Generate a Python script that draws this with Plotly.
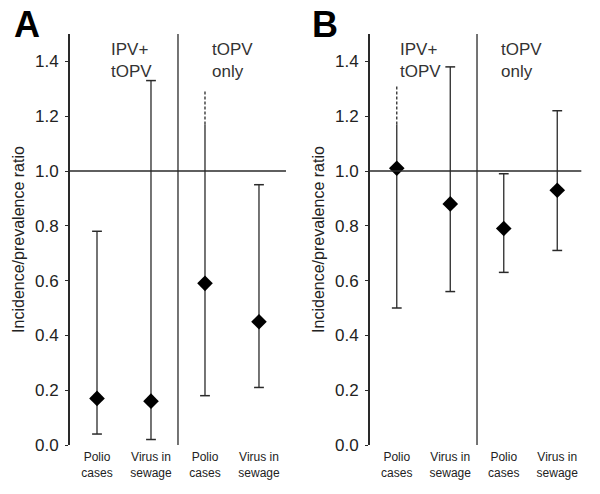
import plotly.graph_objects as go

categories = ["Polio<br>cases", "Virus in<br>sewage", "Polio<br>cases", "Virus in<br>sewage"]
cat_pos = [1, 2, 3, 4]

# Panel A
A_est = [0.17, 0.16, 0.59, 0.45]
A_lo = [0.04, 0.02, 0.18, 0.21]
A_hi = [0.78, 1.33, 1.17, 0.95]
A_hi_ext = [None, None, 1.29, None]   # dashed continuation (no cap)

# Panel B
B_est = [1.01, 0.88, 0.79, 0.93]
B_lo = [0.50, 0.56, 0.63, 0.71]
B_hi = [1.17, 1.38, 0.99, 1.22]
B_hi_ext = [1.31, None, None, None]

group_labels = ["IPV+<br>tOPV", "tOPV<br>only"]
y_ticks = [0.0, 0.2, 0.4, 0.6, 0.8, 1.0, 1.2, 1.4]

LINE = "#2a2a2a"
TXT = "#333333"
FONT = "Liberation Sans, Arial, sans-serif"

fig = go.Figure()


def add_panel(xa, ya, est, lo, hi, hi_ext):
    for x, e, l, h, hx in zip(cat_pos, est, lo, hi, hi_ext):
        fig.add_trace(go.Scatter(x=[x, x], y=[l, h], mode="lines",
                                 line=dict(color=LINE, width=1.3),
                                 xaxis=xa, yaxis=ya, showlegend=False, hoverinfo="skip"))
        caps = [l] if hx is not None else [l, h]
        if hx is not None:
            fig.add_trace(go.Scatter(x=[x, x], y=[h, hx], mode="lines",
                                     line=dict(color=LINE, width=1.3, dash="3px,2px"),
                                     xaxis=xa, yaxis=ya, showlegend=False, hoverinfo="skip"))
        fig.add_trace(go.Scatter(x=[x] * len(caps), y=caps, mode="markers",
                                 marker=dict(symbol="line-ew", size=7,
                                             line=dict(color=LINE, width=1.5)),
                                 xaxis=xa, yaxis=ya, showlegend=False, hoverinfo="skip"))
    fig.add_trace(go.Scatter(x=cat_pos, y=est, mode="markers",
                             marker=dict(symbol="diamond", size=12, color="black"),
                             xaxis=xa, yaxis=ya, showlegend=False))


add_panel("x", "y", A_est, A_lo, A_hi, A_hi_ext)
add_panel("x2", "y2", B_est, B_lo, B_hi, B_hi_ext)

xcommon = dict(range=[0.5, 4.5], tickvals=cat_pos, ticktext=categories,
               showgrid=False, zeroline=False, showline=False, ticks="",
               tickfont=dict(family=FONT, size=12, color="#222"),
               ticklabelstandoff=3, fixedrange=True, automargin=False)
ycommon = dict(range=[0, 1.5], tickvals=y_ticks, tickformat=".1f",
               showgrid=False, zeroline=False, showline=True, linecolor=LINE,
               linewidth=2, ticks="outside", ticklen=3, tickcolor=LINE,
               tickfont=dict(family=FONT, size=17, color="#222"),
               ticklabelstandoff=3, automargin=False,
               title=dict(text="Incidence/prevalence ratio", standoff=6,
                          font=dict(family=FONT, size=16, color="#222")))

fig.update_layout(
    width=600, height=494,
    margin=dict(l=70, r=16, t=34, b=49),
    plot_bgcolor="white", paper_bgcolor="white",
    xaxis=dict(domain=[0, 0.4202], anchor="y", **xcommon),
    xaxis2=dict(domain=[0.5837, 1.0], anchor="y2", **xcommon),
    yaxis=dict(domain=[0, 1], anchor="x", **ycommon),
    yaxis2=dict(domain=[0, 1], anchor="x2", **ycommon),
)

shapes = []
for xr, yr, xend in [("x", "y", 4.5), ("x2", "y2", 4.45)]:
    shapes.append(dict(type="line", xref=xr, yref=yr, x0=0.5, x1=xend, y0=1.0, y1=1.0,
                       line=dict(color=LINE, width=1.3)))
    shapes.append(dict(type="line", xref=xr, yref=yr, x0=2.5, x1=2.5, y0=0.0, y1=1.5,
                       line=dict(color=LINE, width=1.3)))
fig.update_layout(shapes=shapes)

ann = []
for xr, yr, xs in [("x", "y", [1.22, 3.09]), ("x2", "y2", [1.03, 2.91])]:
    for label, xx in zip(group_labels, xs):
        ann.append(dict(xref=xr, yref=yr, x=xx, y=1.485, text=label, showarrow=False,
                        xanchor="left", yanchor="top", align="left",
                        font=dict(family=FONT, size=17, color=TXT)))
ann.append(dict(xref="paper", yref="paper", x=-0.113, y=1.022, text="<b>A</b>",
                showarrow=False, xanchor="left", yanchor="middle",
                font=dict(family=FONT, size=36, color="black")))
ann.append(dict(xref="paper", yref="paper", x=0.467, y=1.022, text="<b>B</b>",
                showarrow=False, xanchor="left", yanchor="middle",
                font=dict(family=FONT, size=36, color="black")))
fig.update_layout(annotations=ann)

fig.write_html("out.html", config={"displayModeBar": False},
               post_script="document.body.style.margin='0px';")
